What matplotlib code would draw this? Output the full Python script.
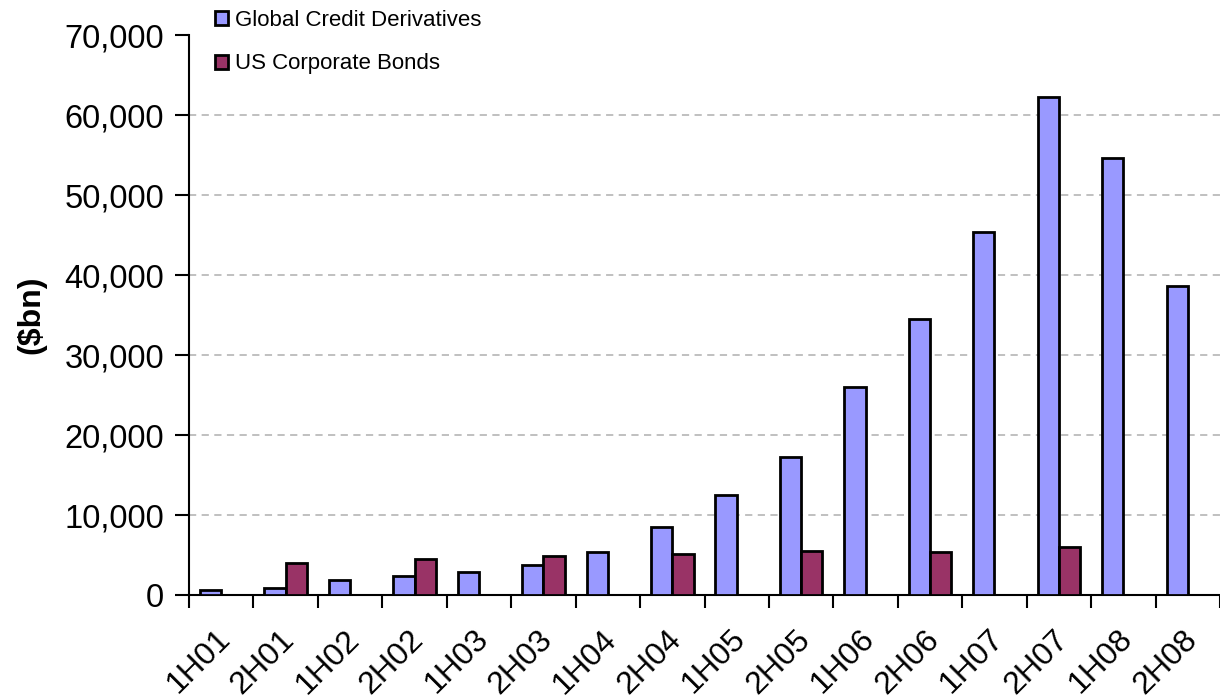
import matplotlib
matplotlib.use("Agg")
import matplotlib.pyplot as plt
import numpy as np
from matplotlib.ticker import FuncFormatter, FixedLocator
from matplotlib.transforms import ScaledTranslation

plt.rcParams['font.family'] = ['Liberation Sans', 'DejaVu Sans']

categories = ["1H01", "2H01", "1H02", "2H02", "1H03", "2H03", "1H04", "2H04",
              "1H05", "2H05", "1H06", "2H06", "1H07", "2H07", "1H08", "2H08"]
global_cd = [630, 900, 1900, 2400, 2900, 3800, 5400, 8500,
             12500, 17300, 26000, 34500, 45400, 62200, 54600, 38600]
us_bonds = [0, 4000, 0, 4500, 0, 4900, 0, 5100,
            0, 5500, 0, 5400, 0, 6000, 0, 0]

fig = plt.figure(figsize=(12.2, 6.99), dpi=100)
ax = fig.add_axes([189/1220, 1-595/699, 1-189/1220, 560/699])

x = np.arange(len(categories))
w = 0.33
ax.bar(x - w/2, global_cd, width=w, color='#9999FF', edgecolor='black', linewidth=2.0,
       label='Global Credit Derivatives', zorder=3)
us_x = [xi for xi, v in zip(x, us_bonds) if v > 0]
us_v = [v for v in us_bonds if v > 0]
ax.bar(np.array(us_x) + w/2, us_v, width=w, color='#993366', edgecolor='black', linewidth=2.0,
       label='US Corporate Bonds', zorder=3)

ax.set_xlim(-0.5, len(categories) - 0.5)
ax.set_ylim(0, 70000)
ax.set_yticks(np.arange(0, 70001, 10000))
ax.yaxis.set_major_formatter(FuncFormatter(lambda v, p: f"{int(v):,}"))
for yv in range(10000, 70000, 10000):
    ax.axhline(yv, color='#BBBBBB', linestyle=(0, (4, 3)), linewidth=1.3, zorder=1)

ax.set_xticks(x)
ax.set_xticklabels(categories, rotation=45, ha='right', rotation_mode='anchor', fontsize=23)
ax.tick_params(axis='x', which='major', length=0, pad=21)
off = ScaledTranslation(-6/100, 0, fig.dpi_scale_trans)
for lbl in ax.get_xticklabels():
    lbl.set_transform(lbl.get_transform() + off)
ax.xaxis.set_minor_locator(FixedLocator(np.arange(-0.5, len(categories) - 0.4, 1)))
ax.tick_params(axis='x', which='minor', length=9, width=1.5, direction='out')
ax.tick_params(axis='y', labelsize=23.5, length=10, width=1.5, direction='out', pad=8)

for s in ['top', 'right']:
    ax.spines[s].set_visible(False)
for s in ['left', 'bottom']:
    ax.spines[s].set_linewidth(1.5)
    ax.spines[s].set_color('black')

ax.set_ylabel('($bn)', fontsize=23, fontweight='bold')
ax.yaxis.set_label_coords(-0.138, 0.5)

fig.legend(loc='upper left', bbox_to_anchor=(195/1220, 1.014), frameon=False, fontsize=16,
           handlelength=0.6, handleheight=0.6, handletextpad=0.3, labelspacing=1.0)

fig.savefig('out.png', dpi=100)
